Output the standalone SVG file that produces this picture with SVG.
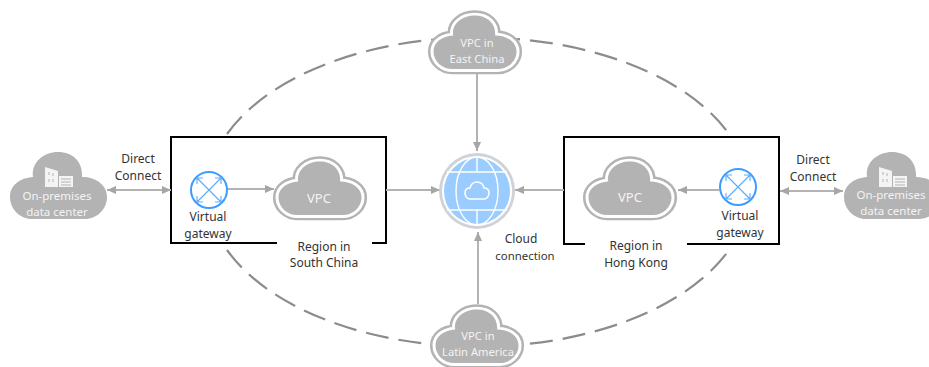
<svg xmlns="http://www.w3.org/2000/svg" width="929" height="367" viewBox="0 0 929 367">
<style>
text{font-family:"Noto Sans","Open Sans","Liberation Sans",sans-serif;font-size:12px;text-anchor:middle;fill:#333}
text.w{fill:#f4f4f4;font-size:11.2px}
text.d{font-size:11.5px}
text.v{font-size:13px}
.line{stroke:#b3b3b3;stroke-width:2;fill:none}
.dash{stroke:#8c8c8c;stroke-width:2.2;fill:none;stroke-dasharray:23 10}
.box{stroke:#000;stroke-width:2;fill:none}
.cf{fill:#b3b3b3}
.co{fill:#b3b3b3;stroke:#b3b3b3;stroke-width:13;vector-effect:non-scaling-stroke}
.cw{fill:#fff;stroke:#fff;stroke-width:7;vector-effect:non-scaling-stroke}
.ic{fill:#fff;stroke:#3d9cff;stroke-width:2}
.ia{stroke:#5aabff;stroke-width:1.1;fill:none}
</style>
<defs>
<path id="cl" d="M22 67C10 67 0 57 0 45C0 33 10 26 23 25C21 10 34 0 48 0C63 0 73 10 72 25C86 25 97 33 97 45C97 57 87 67 75 67Z"/>
<g id="vpc">
<use href="#cl" class="co" transform="translate(6.5 6.5) scale(.856 .8)"/>
<use href="#cl" class="cw" transform="translate(6.5 6.5) scale(.856 .8)"/>
<use href="#cl" class="cf" transform="translate(6.5 6.5) scale(.856 .8)"/>
</g>
<g id="dc">
<use href="#cl" class="cf"/>
<path fill="#f4f4f4" d="M35 15L48 19V35H35ZM49 24H63V35H49Z"/>
<path stroke="#b3b3b3" stroke-width="1" fill="none" d="M39 20v3M43 21v3M39 27v3M43 27v3M51 27h10M51 30h10M51 33h10"/>
</g>
<g id="icon">
<circle class="ic" r="18"/>
<path class="ia" d="M-12-12L12 12M-12 12L12-12M-12-12h6M-12-12v6M12-12h-6M12-12v6M-12 12h6M-12 12v-6M12 12h-6M12 12v-6"/>
</g>
<marker id="a" markerWidth="10" markerHeight="10" refX="9" refY="4" orient="auto-start-reverse" markerUnits="userSpaceOnUse"><path d="M0 0L9 4L0 8Z" fill="#a6a6a6"/></marker>
</defs>
<g id="region-south-china">
<path class="box" d="M277 243H171V137H386V243H372"/>
<text x="324" y="251">Region in</text><text x="324" y="267">South China</text>
</g>
<g id="region-hong-kong">
<path class="box" d="M585 244H564V137H779V244H687"/>
<text x="636" y="250">Region in</text><text x="636" y="267">Hong Kong</text>
</g>
<g id="connectors">
<path class="dash" d="M227 134A271 155 0 0 1 729 134"/>
<path class="dash" d="M227 250A271 155 0 0 0 729 250"/>
<path class="line" marker-start="url(#a)" marker-end="url(#a)" d="M107 190H171"/>
<path class="line" marker-end="url(#a)" d="M227 189H274"/>
<path class="line" marker-end="url(#a)" d="M386 190H440"/>
<path class="line" marker-end="url(#a)" d="M564 190H515"/>
<path class="line" marker-end="url(#a)" d="M719 190H678"/>
<path class="line" marker-start="url(#a)" marker-end="url(#a)" d="M780 191H843"/>
<path class="line" marker-end="url(#a)" d="M477 74V151"/>
<path class="line" marker-end="url(#a)" d="M478 304V232"/>
</g>
<g id="vpc-south"><use href="#vpc" transform="translate(272 155)"/><text class="w v" x="319" y="203">VPC</text></g>
<g id="vpc-hk"><use href="#vpc" transform="translate(582 155)"/><text class="w v" x="630" y="202">VPC</text></g>
<g id="vg-south"><use href="#icon" transform="translate(209 190)"/><text x="208" y="221">Virtual</text><text x="208" y="238">gateway</text></g>
<g id="vg-hk"><use href="#icon" transform="translate(738 187)"/><text x="740" y="220">Virtual</text><text x="740" y="237">gateway</text></g>
<g id="dc-left"><use href="#dc" transform="translate(10 152)"/><text class="w d" x="57" y="200">On-premises</text><text class="w d" x="57" y="216">data center</text></g>
<g id="dc-right"><use href="#dc" transform="translate(844 152)"/><text class="w d" x="891" y="199">On-premises</text><text class="w d" x="891" y="215">data center</text></g>
<g id="vpc-east"><use href="#vpc" transform="translate(427 9)"/><text class="w" x="477" y="47">VPC in</text><text class="w" x="477" y="63">East China</text></g>
<g id="vpc-latin"><use href="#vpc" transform="translate(429 303)"/><text class="w" x="478" y="340">VPC in</text><text class="w" x="478" y="356">Latin America</text></g>
<g id="cloud-connection">
<circle cx="477" cy="191" r="38" fill="#cfd3d8"/>
<circle cx="477" cy="191" r="34" fill="#9accff" stroke="#fff" stroke-width="2"/>
<g fill="none" stroke="#fff" stroke-width="1.4">
<ellipse cx="477" cy="191" rx="21" ry="34"/>
<path d="M447 172H507M447 210H507M477 157V172M477 210V225"/>
<path stroke-width="1.6" d="M470 199C467 199 465 196 465 193C465 190 467 188 470 188C471 184 474 182 477 182C481 182 484 185 484 188C487 188 489 190 489 193C489 196 487 199 484 199Z"/>
</g>
</g>
<g id="labels">
<text x="138" y="163">Direct</text><text x="138" y="180">Connect</text>
<text x="813" y="164">Direct</text><text x="813" y="181">Connect</text>
<text x="521" y="243">Cloud</text><text x="525" y="260" style="font-size:11.4px">connection</text>
</g>
</svg>
